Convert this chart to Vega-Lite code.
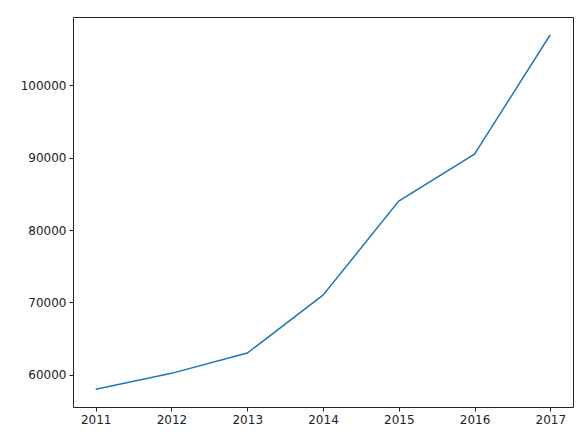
{
  "$schema": "https://vega.github.io/schema/vega-lite/v6.json",
  "width": 500,
  "height": 390,
  "autosize": {"type": "none"},
  "padding": {"left": 73, "top": 17, "right": 14, "bottom": 37},
  "background": "white",
  "config": {
    "view": {"stroke": "#222222", "strokeWidth": 1},
    "axis": {
      "grid": false,
      "domain": false,
      "tickColor": "#222222",
      "tickSize": 4,
      "tickWidth": 1,
      "labelColor": "#222222",
      "labelFont": "DejaVu Sans",
      "labelFontSize": 12,
      "labelPadding": 3,
      "title": null
    }
  },
  "data": {
    "values": [
      {"year": 2011, "value": 58000},
      {"year": 2012, "value": 60200},
      {"year": 2013, "value": 63000},
      {"year": 2014, "value": 71000},
      {"year": 2015, "value": 84000},
      {"year": 2016, "value": 90500},
      {"year": 2017, "value": 107000}
    ]
  },
  "mark": {"type": "line", "color": "#1f77b4", "strokeWidth": 1.5},
  "encoding": {
    "x": {
      "field": "year",
      "type": "quantitative",
      "scale": {"domain": [2010.7, 2017.3], "nice": false, "zero": false},
      "axis": {"values": [2011, 2012, 2013, 2014, 2015, 2016, 2017], "format": "d"}
    },
    "y": {
      "field": "value",
      "type": "quantitative",
      "scale": {"domain": [55550, 109450], "nice": false, "zero": false},
      "axis": {"values": [60000, 70000, 80000, 90000, 100000], "format": "d"}
    }
  }
}
